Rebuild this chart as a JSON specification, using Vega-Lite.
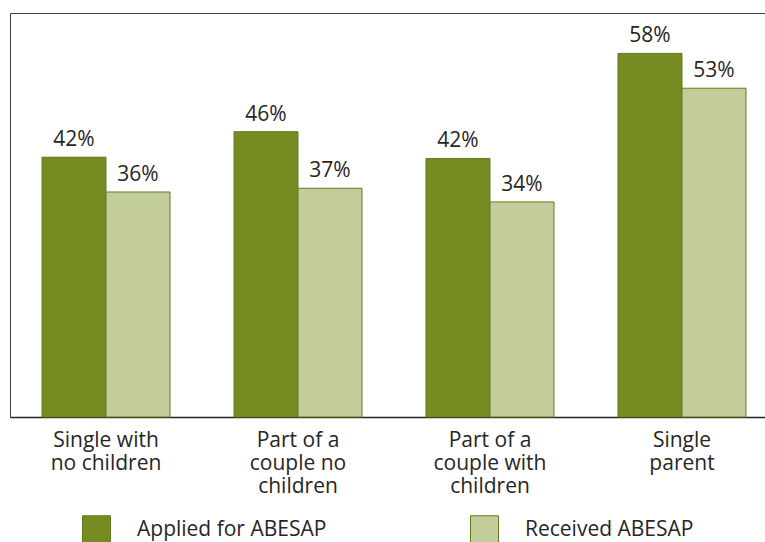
{
  "$schema": "https://vega.github.io/schema/vega-lite/v6.json",
  "width": 755,
  "height": 404,
  "autosize": {"type": "none"},
  "padding": {"left": 10, "top": 13, "right": 0, "bottom": 125},
  "background": "white",
  "config": {
    "view": {"stroke": "#404040", "strokeWidth": 1},
    "font": "Open Sans"
  },
  "data": {
    "values": [
      {"group": "Single with|no children", "series": "Applied for ABESAP", "value": 41.8, "label": "42%"},
      {"group": "Single with|no children", "series": "Received ABESAP", "value": 36.2, "label": "36%"},
      {"group": "Part of a|couple no|children", "series": "Applied for ABESAP", "value": 45.9, "label": "46%"},
      {"group": "Part of a|couple no|children", "series": "Received ABESAP", "value": 36.8, "label": "37%"},
      {"group": "Part of a|couple with|children", "series": "Applied for ABESAP", "value": 41.6, "label": "42%"},
      {"group": "Part of a|couple with|children", "series": "Received ABESAP", "value": 34.6, "label": "34%"},
      {"group": "Single|parent", "series": "Applied for ABESAP", "value": 58.5, "label": "58%"},
      {"group": "Single|parent", "series": "Received ABESAP", "value": 52.9, "label": "53%"}
    ]
  },
  "encoding": {
    "x": {
      "field": "group", "type": "nominal", "sort": null,
      "scale": {"range": [0, 768], "paddingInner": 0.3333, "paddingOuter": 0.1667},
      "axis": {
        "title": null, "ticks": false, "domain": true, "domainColor": "#262626", "domainWidth": 1.5,
        "labelExpr": "split(datum.label, '|')", "labelAngle": 0,
        "labelFontSize": 21, "labelColor": "#262626", "labelLineHeight": 23,
        "labelPadding": 12, "labelBaseline": "top", "labelFont": "Open Sans"
      }
    },
    "xOffset": {"field": "series", "type": "nominal", "scale": {"paddingInner": 0, "paddingOuter": 0}},
    "y": {
      "field": "value", "type": "quantitative",
      "scale": {"domain": [0, 65], "nice": false},
      "axis": null
    }
  },
  "layer": [
    {
      "mark": {"type": "bar", "stroke": "#5f7d1c", "strokeWidth": 1},
      "encoding": {
        "color": {
          "field": "series", "type": "nominal",
          "scale": {"domain": ["Applied for ABESAP", "Received ABESAP"], "range": ["#768c22", "#c3cd9b"]},
          "legend": {
            "title": null, "orient": "none", "legendX": 72, "legendY": 502,
            "direction": "horizontal", "columns": 2, "columnPadding": 141,
            "symbolType": "square", "symbolSize": 784, "symbolStrokeColor": "#5f7d1c", "symbolStrokeWidth": 1,
            "symbolOpacity": 1,
            "labelFontSize": 21, "labelColor": "#262626", "labelOffset": 26, "labelFont": "Open Sans", "labelLimit": 400
          }
        }
      }
    },
    {
      "mark": {"type": "text", "baseline": "alphabetic", "dy": -11, "fontSize": 21, "color": "#262626", "font": "Open Sans"},
      "encoding": {"text": {"field": "label"}}
    }
  ]
}
